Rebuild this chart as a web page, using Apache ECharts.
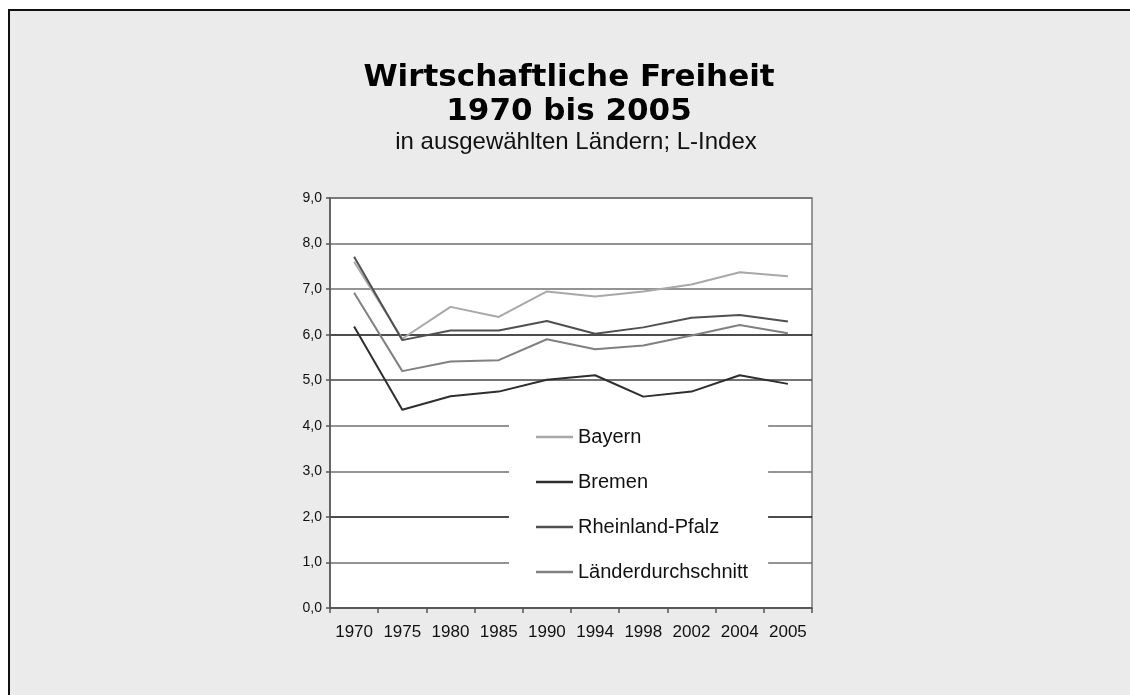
<!DOCTYPE html>
<html>
<head>
<meta charset="utf-8">
<script src="https://cdn.jsdelivr.net/npm/echarts@6/dist/echarts.min.js"></script>
<style>
  html, body { margin: 0; padding: 0; background: #ffffff; }
  #frame { position: absolute; left: 8px; top: 9px; width: 1200px; height: 800px;
           background: #ebebeb; border-left: 2px solid #111; border-top: 2px solid #111; box-sizing: border-box; }
  #chart { position: absolute; left: 0; top: 0; width: 1130px; height: 695px; }
</style>
</head>
<body>
<div id="frame"></div>
<div id="chart"></div>
<script>
const categories = ['1970', '1975', '1980', '1985', '1990', '1994', '1998', '2002', '2004', '2005'];
const bayern = [7.60, 5.91, 6.61, 6.39, 6.95, 6.84, 6.95, 7.10, 7.37, 7.28];
const bremen = [6.18, 4.35, 4.65, 4.75, 5.01, 5.11, 4.64, 4.75, 5.11, 4.92];
const rheinlandPfalz = [7.71, 5.88, 6.09, 6.09, 6.30, 6.02, 6.16, 6.37, 6.43, 6.29];
const laenderdurchschnitt = [6.92, 5.20, 5.41, 5.44, 5.90, 5.68, 5.76, 5.98, 6.21, 6.03];
const seriesNames = ['Bayern', 'Bremen', 'Rheinland-Pfalz', 'Länderdurchschnitt'];
const seriesColors = ['#a8a8a8', '#2e2e2e', '#505050', '#808080'];
const seriesData = [bayern, bremen, rheinlandPfalz, laenderdurchschnitt];

const chart = echarts.init(document.getElementById('chart'), null, { renderer: 'canvas' });
chart.setOption({
  backgroundColor: 'transparent',
  animation: false,
  title: [
    {
      text: 'Wirtschaftliche Freiheit\n1970 bis 2005',
      left: 569, top: 61, textAlign: 'center', padding: 0,
      textStyle: { fontFamily: 'DejaVu Sans', fontWeight: 'bold', fontSize: 31, lineHeight: 34, color: '#000' }
    },
    {
      text: 'in ausgewählten Ländern; L-Index',
      left: 576, top: 129, textAlign: 'center', padding: 0,
      textStyle: { fontFamily: 'Liberation Sans', fontWeight: 'normal', fontSize: 24, lineHeight: 27, color: '#111' }
    }
  ],
  grid: {
    left: 330, top: 198, right: 318, bottom: 87,
    show: true, backgroundColor: '#ffffff', borderColor: '#777', borderWidth: 1.5
  },
  legend: {
    orient: 'vertical', left: 509, top: 410,
    backgroundColor: '#ffffff',
    padding: [17, 20, 14, 27],
    icon: 'rect',
    itemWidth: 37, itemHeight: 2.5, itemGap: 25,
    textStyle: { fontFamily: 'Liberation Sans', fontSize: 20, lineHeight: 20, color: '#111' },
    data: seriesNames
  },
  xAxis: {
    type: 'category', data: categories, boundaryGap: true,
    axisLine: { lineStyle: { color: '#555', width: 1.5 } },
    axisTick: { show: true, length: 5, interval: 0, lineStyle: { color: '#555', width: 1.5 } },
    axisLabel: { interval: 0, margin: 16, fontFamily: 'Liberation Sans', fontSize: 17, color: '#111' },
    splitLine: { show: false }
  },
  yAxis: {
    type: 'value', min: 0, max: 9, interval: 1,
    axisLine: { show: true, lineStyle: { color: '#555', width: 1.5 } },
    axisTick: { show: true, length: 4, lineStyle: { color: '#555', width: 1.5 } },
    axisLabel: {
      margin: 8, fontFamily: 'Liberation Sans', fontSize: 14, color: '#111',
      formatter: v => v.toFixed(1).replace('.', ',')
    },
    splitLine: {
      show: true,
      lineStyle: { width: 1.5, color: ['#555', '#707070', '#111', '#707070', '#707070', '#444', '#111', '#707070', '#707070', '#707070'] }
    }
  },
  series: seriesNames.map((name, i) => ({
    name: name, type: 'line', data: seriesData[i],
    symbol: 'none', showSymbol: false,
    lineStyle: { color: seriesColors[i], width: 2 },
    itemStyle: { color: seriesColors[i] }
  }))
});
</script>
</body>
</html>
